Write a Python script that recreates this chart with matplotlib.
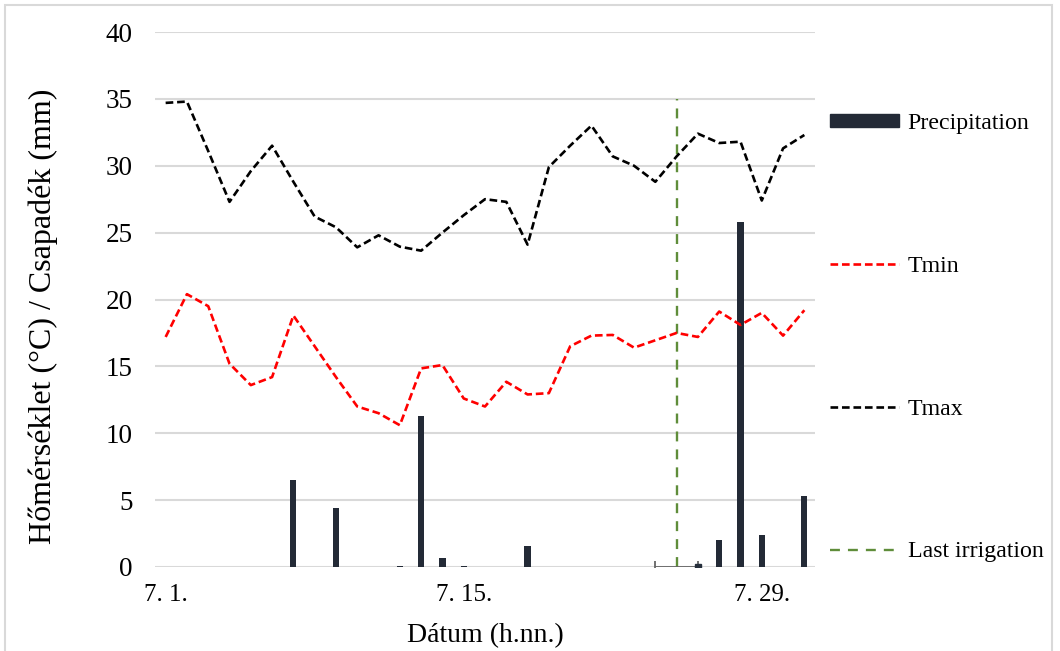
import matplotlib.pyplot as plt
from matplotlib.patches import Rectangle
from matplotlib.lines import Line2D

plt.rcParams['font.family'] = ['Liberation Serif', 'DejaVu Serif']

days = list(range(1, 32))
tmax = [34.7, 34.8, 31.1, 27.3, 29.6, 31.5, 28.8, 26.2, 25.4, 23.9, 24.8, 23.95, 23.65, 25.0, 26.3, 27.5,
        27.3, 24.1, 29.9, 31.5, 33.0, 30.7, 30.0, 28.8, 30.7, 32.4, 31.7, 31.8, 27.4, 31.3, 32.3]
tmin = [17.2, 20.4, 19.5, 15.2, 13.6, 14.2, 18.8, 16.5, 14.2, 12.0, 11.5, 10.6, 14.85, 15.1, 12.6, 12.0,
        13.85, 12.9, 13.0, 16.5, 17.3, 17.35, 16.4, 16.95, 17.5, 17.2, 19.1, 18.1, 19.0, 17.3, 19.2]
precip = [0, 0, 0, 0, 0, 0, 6.5, 0, 4.4, 0, 0, 0.1, 11.3, 0.7, 0.1, 0, 0, 1.6, 0, 0, 0, 0, 0, 0, 0, 0,
          2.0, 25.8, 2.4, 0, 5.3]
irrigation_day = 25
irrigation_top = 35
irrigation_err = 1
tick_days = [1, 15, 29]
tick_labels = ['7. 1.', '7. 15.', '7. 29.']

fig = plt.figure(figsize=(10.6, 6.51), dpi=100)
ax = fig.add_axes([155 / 1060, 1 - 567 / 651, 660 / 1060, 535 / 651])

bar_col = '#232a36'
green = '#5f8d3a'
temp_dash = (2.9, 1.45)
green_dash = (4.2, 3.4)
ax.bar(days, precip, width=0.29, color=bar_col, zorder=3, label='Precipitation')
ax.plot(days, tmin, color='red', lw=1.9, dashes=temp_dash, zorder=4, label='Tmin')
ax.plot(days, tmax, color='black', lw=1.9, dashes=temp_dash, zorder=4, label='Tmax')
ax.plot([irrigation_day, irrigation_day], [0, irrigation_top], color=green, lw=1.7,
        dashes=green_dash, zorder=2, label='Last irrigation')
ax.errorbar(irrigation_day, 0, xerr=irrigation_err, fmt='none', ecolor='#666666', elinewidth=1.3,
            capsize=4, capthick=1.3, zorder=5)
ax.plot(irrigation_day + irrigation_err, 0, marker='s', ms=4, color='#262f3c', zorder=6)

ax.set_xlim(0.5, 31.5)
ax.set_ylim(0, 40)
ax.set_yticks(range(0, 41, 5))
ax.set_xticks(tick_days)
ax.set_xticklabels(tick_labels)
ax.tick_params(axis='x', length=0, pad=12, labelsize=18)
ax.tick_params(axis='y', length=0, pad=16, labelsize=19.5)
ax.grid(axis='y', color='#d9d9d9', lw=1.5, zorder=0)
for s in ax.spines.values():
    s.set_visible(False)

fig.text(43 / 1060, 1 - 316 / 651, 'Hőmérséklet (°C) / Csapadék (mm)', rotation=90,
         ha='center', va='center', fontsize=23)
fig.text(485 / 1060, 1 - 636 / 651, 'Dátum (h.nn.)', ha='center', va='center', fontsize=20)

handles = [Rectangle((0, 0), 1, 1, color=bar_col),
           Line2D([], [], color='red', lw=1.9, dashes=temp_dash),
           Line2D([], [], color='black', lw=1.9, dashes=temp_dash),
           Line2D([], [], color=green, lw=1.7, dashes=green_dash)]
fig.legend(handles, ['Precipitation', 'Tmin', 'Tmax', 'Last irrigation'], loc='upper left',
           bbox_to_anchor=(830 / 1060, 1 - 113 / 651), frameon=False, fontsize=17.2,
           borderpad=0, borderaxespad=0, handlelength=2.9, handletextpad=0.35,
           handleheight=0.5, labelspacing=5.1)

fig.patches.append(Rectangle((5 / 1060, -0.1), 1047 / 1060, 1.1 - 5 / 651, transform=fig.transFigure,
                             fill=False, edgecolor='#d9d9d9', lw=1.5))

fig.savefig('out.png', dpi=100)
